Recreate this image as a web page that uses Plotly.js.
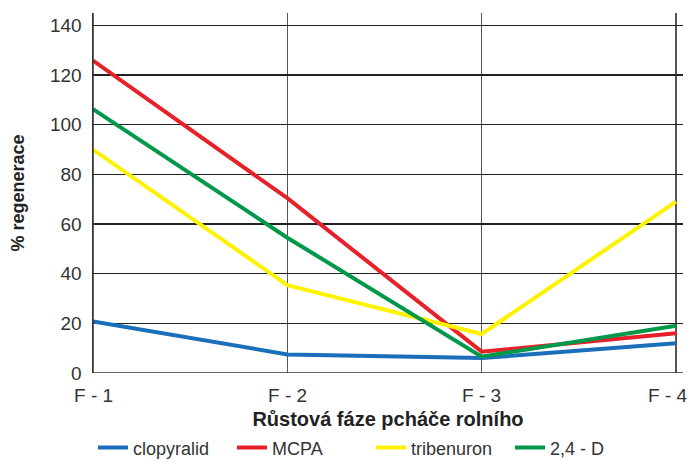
<!DOCTYPE html>
<html>
<head>
<meta charset="utf-8">
<script src="https://cdn.plot.ly/plotly-3.0.1.min.js"></script>
<style>html,body{margin:0;padding:0;background:#fff;}#chart{width:689px;height:464px;}</style>
</head>
<body>
<div id="chart"></div>
<script>
const categories = ["F - 1", "F - 2", "F - 3", "F - 4"];
const clopyralid = [20.8, 7.5, 6.0, 12.0];
const mcpa = [125.8, 70.4, 8.6, 16.0];
const tribenuron = [90.0, 35.4, 15.7, 69.0];
const d24 = [106.3, 54.5, 6.6, 19.0];
const seriesNames = ["clopyralid", "MCPA", "tribenuron", "2,4 - D"];
const seriesColors = ["#1a6fbb", "#e8202a", "#fff200", "#00994a"];
const yTicks = [0, 20, 40, 60, 80, 100, 120, 140];

const xIdx = categories.map((c, i) => i);
const allSeries = [clopyralid, mcpa, tribenuron, d24];
const traces = allSeries.map((vals, k) => ({
  type: "scatter",
  mode: "lines",
  x: xIdx,
  y: vals,
  name: seriesNames[k],
  line: {color: seriesColors[k], width: 4},
  hoverinfo: "skip"
}));

const FONT = "Liberation Sans, Arial, sans-serif";

// x category labels drawn as annotations below the axis (last one kept inside the page)
const xLabels = categories.map((c, i) => ({
  xref: "x", yref: "paper", x: i, y: 0, yanchor: "top", yshift: -10,
  xanchor: "center", xshift: i === categories.length - 1 ? -9 : 0,
  text: c, showarrow: false, font: {size: 19, color: "#333", family: FONT}
}));

const layout = {
  width: 689, height: 464,
  margin: {l: 93, r: 6, t: 13, b: 91, autoexpand: false},
  paper_bgcolor: "#fff", plot_bgcolor: "#fff",
  font: {family: FONT, color: "#333"},
  showlegend: true,
  legend: {
    orientation: "h", x: 0, xanchor: "left", y: -0.208, yanchor: "middle",
    font: {size: 18, color: "#333"}, itemwidth: 30,
    entrywidth: 94, entrywidthmode: "pixels",
    bgcolor: "rgba(0,0,0,0)"
  },
  xaxis: {
    range: [0, 3.036],
    tickvals: xIdx, ticktext: categories.map(() => ""),
    showgrid: true, gridcolor: "#555", gridwidth: 1.5,
    zeroline: false, showline: false, ticks: "",
    fixedrange: true, automargin: false,
    title: {text: "Růstová fáze pcháče rolního", font: {size: 20, color: "#222", family: FONT, weight: "bold"}, standoff: 38}
  },
  yaxis: {
    range: [0, 145],
    tickvals: yTicks,
    showgrid: true, gridcolor: "#222", gridwidth: 1.5,
    zeroline: false, showline: true, linecolor: "#333", linewidth: 1.5,
    ticks: "", ticklabelstandoff: 6,
    tickfont: {size: 19, color: "#333"},
    fixedrange: true, automargin: false,
    title: {text: "% regenerace", font: {size: 18, color: "#222", family: FONT, weight: "bold"}, standoff: 20}
  },
  annotations: xLabels,
  shapes: [
    {type: "line", xref: "paper", yref: "y", x0: 0, x1: 1, y0: 0, y1: 0, line: {color: "#333", width: 1.5}},
    {type: "line", xref: "x", yref: "paper", x0: 0, x1: 0, y0: 0, y1: 1, line: {color: "#333", width: 1.5}}
  ]
};

Plotly.newPlot("chart", traces, layout, {staticPlot: true, displayModeBar: false});
</script>
</body>
</html>
